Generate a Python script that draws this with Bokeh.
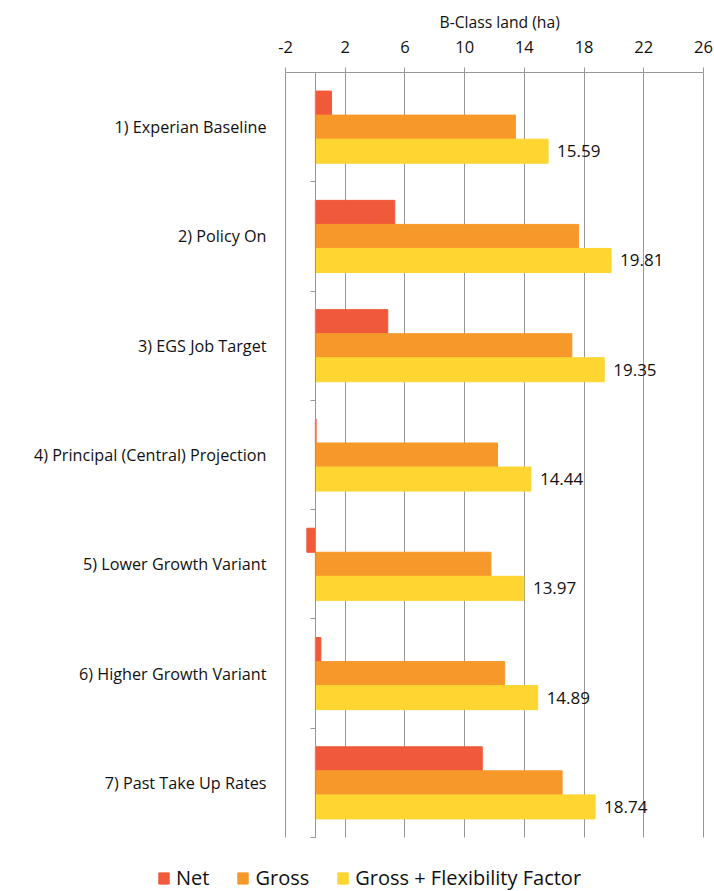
from bokeh.plotting import figure
from bokeh.models import (Range1d, FixedTicker, LinearAxis, Legend, LegendItem,
                          CustomJSTickFormatter, ColumnDataSource)
from bokeh.core.properties import value
from bokeh.transform import dodge
from bokeh.embed import file_html
from bokeh.resources import INLINE

categories = ["1) Experian Baseline", "2) Policy On", "3) EGS Job Target",
              "4) Principal (Central) Projection", "5) Lower Growth Variant",
              "6) Higher Growth Variant", "7) Past Take Up Rates"]
net = [1.08, 5.32, 4.85, 0.05, -0.57, 0.37, 11.18]
gross = [13.40, 17.62, 17.18, 12.20, 11.76, 12.68, 16.53]
flex = [15.59, 19.81, 19.35, 14.44, 13.97, 14.89, 18.74]
flex_labels = ["15.59", "19.81", "19.35", "14.44", "13.97", "14.89", "18.74"]
x_ticks = [-2, 2, 6, 10, 14, 18, 22, 26]
series_names = ["Net", "Gross", "Gross + Flexibility Factor"]
axis_title = "B-Class land (ha)"
colors = ["#F05A3A", "#F7992A", "#FED531"]

FONT = "Open Sans"
GRID = "#979797"
TXT = "#111111"

# layout (pixels): value axis spans 285..703, categories span 72..837, page 714x891
W, H, TOP = 714, 891, 72
AX_L, AX_R, CAT_B = 285, 703, 837
n = len(categories)
ppu = (AX_R - AX_L) / (x_ticks[-1] - x_ticks[0])
ppc = (CAT_B - TOP) / n
x_lo = x_ticks[0] - AX_L / ppu
x_hi = x_ticks[-1] + (W - AX_R) / ppu
y_lo = n + (H - CAT_B) / ppc

pos = [i + 0.5 for i in range(n)]
src = ColumnDataSource(dict(pos=pos, net=net, gross=gross, flex=flex,
                            lab=flex_labels, cat=categories))

p = figure(frame_width=W, frame_height=H - TOP, output_backend="svg", toolbar_location=None,
           x_range=Range1d(x_lo, x_hi), y_range=Range1d(y_lo, 0),
           x_axis_location="above", y_axis_location=None, title=axis_title,
           min_border_left=0, min_border_right=0, min_border_top=TOP,
           min_border_bottom=0)
p.outline_line_color = None
p.background_fill_color = "white"
p.border_fill_color = None
p.xgrid.grid_line_color = None
p.ygrid.grid_line_color = None

p.title.align = "left"
p.title.offset = 439
p.title.text_font = FONT
p.title.text_font_size = "15.7px"
p.title.text_font_style = "normal"
p.title.text_color = TXT
p.title.standoff = 9

# top value axis (labels, line, outer ticks)
xa = p.xaxis[0]
xa.ticker = FixedTicker(ticks=x_ticks)
xa.bounds = (x_ticks[0], x_ticks[-1])
xa.formatter = CustomJSTickFormatter(code="return tick.toString()")
xa.major_label_text_font = FONT
xa.major_label_text_font_size = "16.5px"
xa.major_label_text_color = TXT
xa.major_label_standoff = 15
xa.axis_line_color = GRID
xa.major_tick_line_color = GRID
xa.major_tick_out = 5
xa.major_tick_in = 0
xa.minor_tick_line_color = None

# vertical gridlines: inward ticks of a zero-size axis fixed at the top, drawn under the bars
ga = LinearAxis(fixed_location=0, bounds=(x_ticks[0], x_ticks[-1]),
                ticker=FixedTicker(ticks=x_ticks),
                formatter=CustomJSTickFormatter(code="return ''"))
ga.axis_line_color = None
ga.major_tick_line_color = GRID
ga.major_tick_out = 0
ga.major_tick_in = CAT_B - TOP
ga.minor_tick_line_color = None
ga.major_label_standoff = 0
ga.level = "underlay"
p.add_layout(ga, "above")

# category axis line at x = 0 with boundary ticks
ca = LinearAxis(fixed_location=0, bounds=(0, n),
                ticker=FixedTicker(ticks=list(range(n + 1))),
                formatter=CustomJSTickFormatter(code="return ''"))
ca.axis_line_color = GRID
ca.major_tick_line_color = GRID
ca.major_tick_out = 5
ca.major_tick_in = 0
ca.minor_tick_line_color = None
ca.major_label_standoff = 0
p.add_layout(ca, "left")

# category labels, right-aligned left of the value axis start
p.text(x=x_ticks[0], y="pos", text="cat", source=src, x_offset=-19,
       text_align="right", text_baseline="middle",
       text_font=value(FONT), text_font_size="16.2px", text_color=TXT)

h = 0.22
r_net = p.hbar(y=dodge("pos", -h, range=p.y_range), left=0, right="net", height=h,
               source=src, fill_color=colors[0], line_color=colors[0])
r_gross = p.hbar(y="pos", left=0, right="gross", height=h,
                 source=src, fill_color=colors[1], line_color=colors[1])
r_flex = p.hbar(y=dodge("pos", h, range=p.y_range), left=0, right="flex", height=h,
                source=src, fill_color=colors[2], line_color=colors[2])

p.text(x="flex", y=dodge("pos", h, range=p.y_range), text="lab", source=src,
       x_offset=9, text_baseline="middle", text_align="left",
       text_font=value(FONT), text_font_size="17px", text_color=TXT)

legend = Legend(items=[LegendItem(label=series_names[0], renderers=[r_net]),
                       LegendItem(label=series_names[1], renderers=[r_gross]),
                       LegendItem(label=series_names[2], renderers=[r_flex])],
                orientation="horizontal", location=(157, 0))
legend.glyph_width = 13
legend.glyph_height = 14
legend.label_standoff = 6
legend.spacing = 27
legend.padding = 0
legend.margin = 0
legend.border_line_color = None
legend.background_fill_alpha = 0
legend.label_text_font = FONT
legend.label_text_font_size = "20px"
legend.label_text_color = TXT
p.add_layout(legend, "center")

open("out.html", "w").write(file_html(p, INLINE))
